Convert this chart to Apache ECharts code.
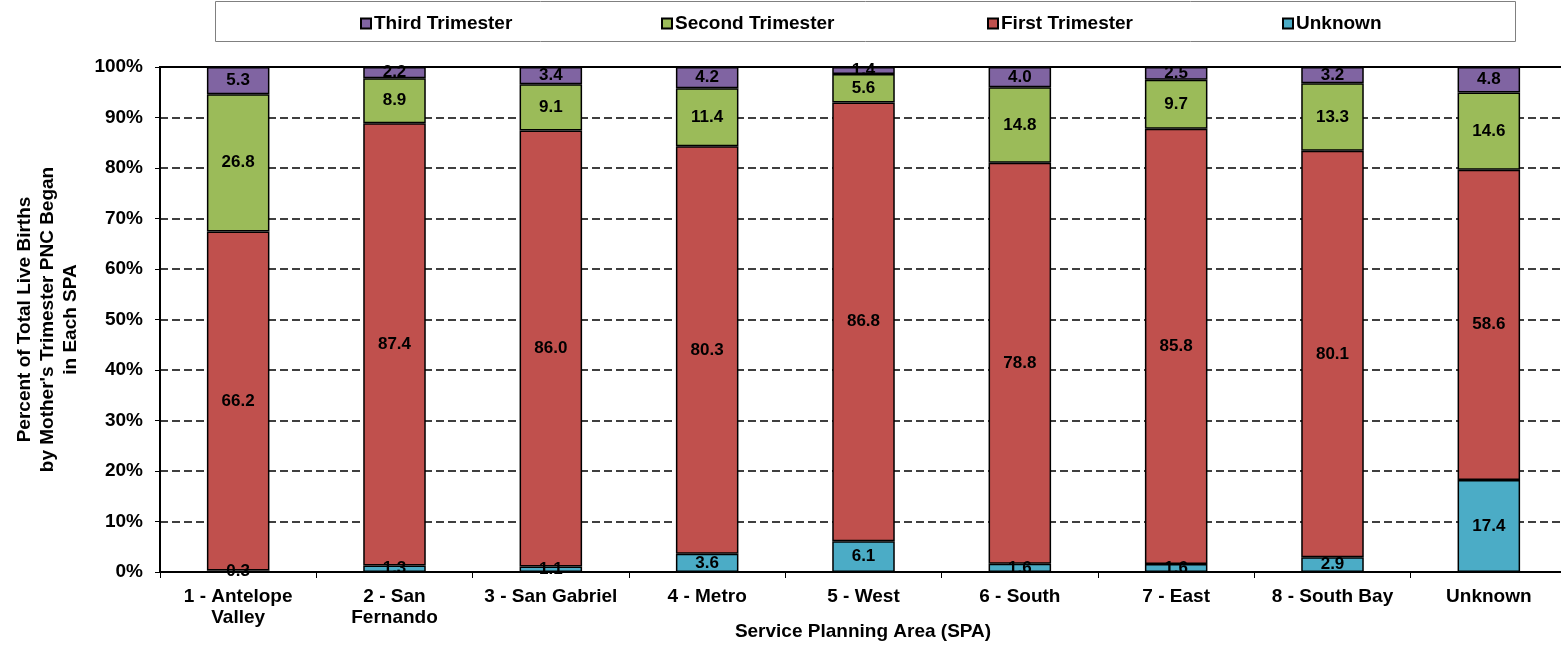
<!DOCTYPE html>
<html>
<head>
<meta charset="utf-8">
<script src="https://cdn.jsdelivr.net/npm/echarts@6/dist/echarts.min.js"></script>
<style>html,body{margin:0;padding:0;background:#fff}#c{width:1561px;height:645px}</style>
</head>
<body>
<div id="c"></div>
<script>
var categories = ['1 - Antelope\nValley', '2 - San\nFernando', '3 - San Gabriel', '4 - Metro', '5 - West', '6 - South', '7 - East', '8 - South Bay', 'Unknown'];
var unknownVals = [0.3, 1.3, 1.1, 3.6, 6.1, 1.6, 1.6, 2.9, 17.4];
var firstVals = [66.2, 87.4, 86.0, 80.3, 86.8, 78.8, 85.8, 80.1, 58.6];
var secondVals = [26.8, 8.9, 9.1, 11.4, 5.6, 14.8, 9.7, 13.3, 14.6];
var thirdVals = [5.3, 2.2, 3.4, 4.2, 1.4, 4.0, 2.5, 3.2, 4.8];
var yTicks = [0, 10, 20, 30, 40, 50, 60, 70, 80, 90, 100];

var FONT = '"Liberation Sans", Arial, sans-serif';
var totals = categories.map(function (_, i) {
  return unknownVals[i] + firstVals[i] + secondVals[i] + thirdVals[i];
});
function pct(arr) {
  return arr.map(function (v, i) { return v / totals[i] * 100; });
}
function mkSeries(name, arr, color) {
  return {
    name: name, type: 'bar', stack: 'all', barWidth: '40%',
    data: pct(arr),
    itemStyle: { color: color, borderColor: '#000', borderWidth: 1.5 },
    label: {
      show: true, position: 'inside', color: '#000',
      fontFamily: FONT, fontWeight: 'bold', fontSize: 17,
      formatter: function (p) { return arr[p.dataIndex].toFixed(1); }
    },
    emphasis: { disabled: true }
  };
}
function mkLegend(name, left) {
  return {
    left: left, top: 9, itemWidth: 10, itemHeight: 10, icon: 'rect',
    data: [name], selectedMode: false,
    textStyle: { fontFamily: FONT, fontWeight: 'bold', fontSize: 19, color: '#000', padding: [0, 0, 0, -2] }
  };
}
var chart = echarts.init(document.getElementById('c'));
chart.setOption({
  animation: false,
  backgroundColor: '#fff',
  graphic: [{
    type: 'rect', left: 215, top: 1, z: -1,
    shape: { width: 1300, height: 40 },
    style: { fill: '#fff', stroke: '#808080', lineWidth: 1 }
  }, {
    type: 'text', x: 863, y: 632,
    style: {
      text: 'Service Planning Area (SPA)', fill: '#000',
      font: 'bold 19px "Liberation Sans", Arial, sans-serif',
      align: 'center', verticalAlign: 'middle'
    }
  }],
  legend: [
    mkLegend('Third Trimester', 355),
    mkLegend('Second Trimester', 656),
    mkLegend('First Trimester', 982),
    mkLegend('Unknown', 1277)
  ],
  grid: {
    left: 160, top: 67, width: 1407, height: 505,
    outerBoundsMode: 'none', containLabel: false,
    show: true, borderColor: '#000', borderWidth: 2, backgroundColor: '#fff'
  },
  xAxis: {
    type: 'category', data: categories,
    axisLine: { lineStyle: { color: '#000', width: 2 } },
    axisTick: { show: true, length: 6, lineStyle: { color: '#000' } },
    axisLabel: { interval: 0, margin: 14, fontFamily: FONT, fontWeight: 'bold', fontSize: 19, color: '#000', lineHeight: 21 }
  },
  yAxis: {
    type: 'value', min: yTicks[0], max: yTicks[yTicks.length - 1], interval: 10,
    name: "Percent of Total Live Births\nby Mother's Trimester PNC Began\nin Each SPA",
    nameLocation: 'middle', nameGap: 78, nameRotate: 90,
    nameTextStyle: { fontFamily: FONT, fontWeight: 'bold', fontSize: 19, color: '#000', lineHeight: 23, align: 'center' },
    axisLine: { show: true, lineStyle: { color: '#000', width: 2 } },
    axisTick: { show: true, length: 5, lineStyle: { color: '#000' } },
    axisLabel: { margin: 17, fontFamily: FONT, fontWeight: 'bold', fontSize: 19, color: '#000', formatter: '{value}%' },
    splitLine: { show: true, lineStyle: { color: '#000', type: [8, 4], width: 1.5 } }
  },
  series: [
    mkSeries('Unknown', unknownVals, '#4BACC6'),
    mkSeries('First Trimester', firstVals, '#C0504D'),
    mkSeries('Second Trimester', secondVals, '#9BBB59'),
    mkSeries('Third Trimester', thirdVals, '#8064A2')
  ]
});
</script>
</body>
</html>
